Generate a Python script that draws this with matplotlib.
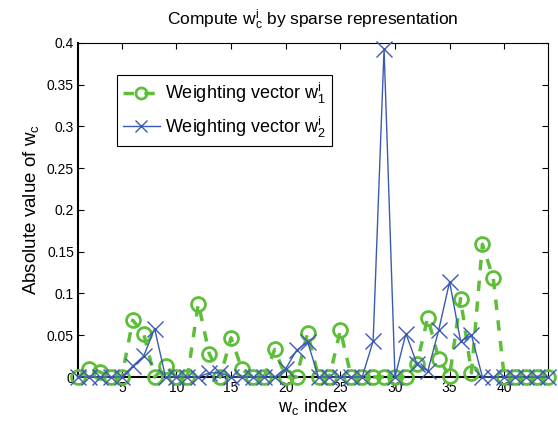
import matplotlib
matplotlib.use("Agg")
import matplotlib.pyplot as plt
from matplotlib.ticker import FixedLocator, FixedFormatter

plt.rcParams['font.family'] = ['Liberation Sans', 'DejaVu Sans']
plt.rcParams['mathtext.fontset'] = 'custom'
plt.rcParams['mathtext.rm'] = 'Liberation Sans'
plt.rcParams['mathtext.it'] = 'Liberation Sans'

x = list(range(1, 45))
w1 = [0, 0.010, 0.006, 0, 0, 0.068, 0.052, 0, 0.013, 0,
      0, 0.088, 0.028, 0, 0.047, 0.009, 0, 0, 0.033, 0,
      0, 0.053, 0, 0, 0.056, 0, 0, 0, 0, 0,
      0, 0.016, 0.071, 0.022, 0.001, 0.094, 0.005, 0.159, 0.118, 0,
      0, 0, 0, 0]
w2 = [0, 0, 0, 0, 0, 0.013, 0.025, 0.058, 0, 0,
      0, 0, 0.005, 0.005, 0, 0, 0, 0, 0, 0.010,
      0.032, 0.042, 0, 0, 0, 0, 0, 0.043, 0.393, 0,
      0.052, 0.016, 0.007, 0.056, 0.114, 0.043, 0.050, 0, 0, 0,
      0, 0, 0, 0]
xticks = [5, 10, 15, 20, 25, 30, 35, 40]
yticks = [0, 0.05, 0.1, 0.15, 0.2, 0.25, 0.3, 0.35, 0.4]
ytick_labels = ['0', '0.05', '0.1', '0.15', '0.2', '0.25', '0.3', '0.35', '0.4']

green = '#5EBE3A'
blue = '#3C5AB0'

fig = plt.figure(figsize=(5.58, 4.21), dpi=100)
ax = fig.add_axes([0.140, 0.1045, 0.842, 0.7935])

ax.plot(x, w1, linestyle='--', color=green, linewidth=2.5, marker='o',
        markersize=10, markerfacecolor='none', markeredgewidth=2,
        dashes=(3, 3), clip_on=False, zorder=3,
        label=r'Weighting vector $\mathregular{w_1^i}$')
ax.plot(x, w2, linestyle='-', color=blue, linewidth=1, marker='x',
        markersize=11, markeredgewidth=1, clip_on=False, zorder=4,
        label=r'Weighting vector $\mathregular{w_2^i}$')

ax.set_xlim(1, 44)
ax.set_ylim(0, 0.4)
ax.xaxis.set_major_locator(FixedLocator(xticks))
ax.yaxis.set_major_locator(FixedLocator(yticks))
ax.yaxis.set_major_formatter(FixedFormatter(ytick_labels))
ax.tick_params(direction='in', top=True, right=True, labelsize=10, length=4,
               width=0.8, pad=3)
for side in ['top', 'right']:
    ax.spines[side].set_linewidth(0.8)
for side in ['left', 'bottom']:
    ax.spines[side].set_linewidth(1.5)

ax.set_title(r'Compute $\mathregular{w_c^i}$ by sparse representation', fontsize=12.5, pad=13)
ax.set_xlabel(r'$\mathregular{w_c}$ index', fontsize=13, labelpad=1)
ax.set_ylabel(r'Absolute value of $\mathregular{w_c}$', fontsize=13.5, labelpad=4)

leg = ax.legend(loc='upper left', bbox_to_anchor=(0.083, 0.904), fontsize=13,
                frameon=True, fancybox=False, framealpha=1, edgecolor='black',
                handlelength=2.0, borderpad=0.35, labelspacing=0.45,
                handletextpad=0.3, borderaxespad=0, markerscale=0.8)
leg.get_frame().set_linewidth(0.8)

fig.savefig('out.png', dpi=100)
